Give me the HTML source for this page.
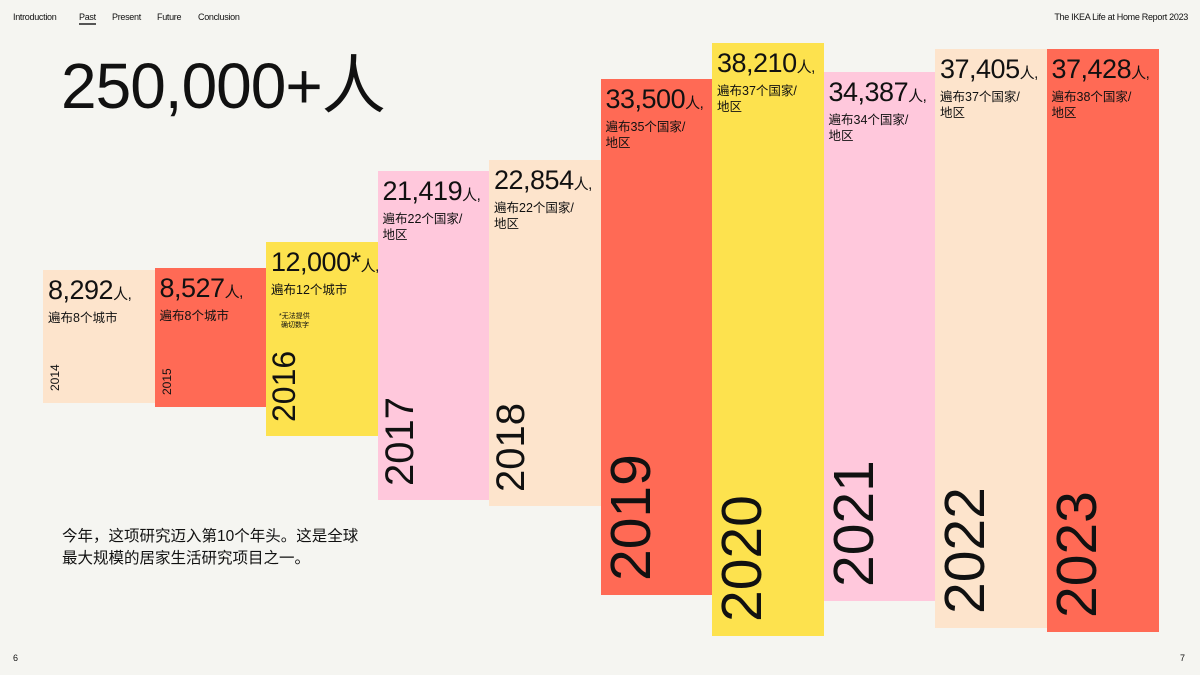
<!DOCTYPE html>
<html><head><meta charset="utf-8">
<style>
body{margin:0;width:1200px;height:675px;background:#f5f5f1;position:relative;overflow:hidden;font-family:"Liberation Sans","Noto Sans CJK SC",sans-serif;color:#111}
.nav{position:absolute;top:12px;font-size:9px;letter-spacing:-0.3px}
.bar{position:absolute}
.lbl{position:absolute;left:5px;top:5px;white-space:nowrap}
.num{font-size:27px;letter-spacing:-0.5px;line-height:30px}
.num small{font-size:15px}
.sub{font-size:12.5px;line-height:16px}
.yr{position:absolute;left:0;transform-origin:0 0;transform:rotate(-90deg);white-space:nowrap;line-height:1}
</style></head><body>
<div class="nav" style="left:13px">Introduction</div>
<div class="nav" style="left:79px;border-bottom:2px solid #555;padding-bottom:1px">Past</div>
<div class="nav" style="left:112px">Present</div>
<div class="nav" style="left:157px">Future</div>
<div class="nav" style="left:198px">Conclusion</div>
<div class="nav" style="right:12px">The IKEA Life at Home Report 2023</div>
<div style="position:absolute;left:61px;top:48px;font-size:64px;letter-spacing:-1px;line-height:76px">250,000+人</div>
<div style="position:absolute;left:62px;top:526px;font-size:15.5px;line-height:22px">今年，这项研究迈入第10个年头。这是全球<br>最大规模的居家生活研究项目之一。</div>
<div style="position:absolute;left:13px;top:653px;font-size:9px">6</div>
<div style="position:absolute;left:1180px;top:653px;font-size:9px">7</div>
<div id="chart"></div>
<script>
const years=["2014","2015","2016","2017","2018","2019","2020","2021","2022","2023"];
const values=[8292,8527,12000,21419,22854,33500,38210,34387,37405,37428];
const valueLabels=["8,292","8,527","12,000*","21,419","22,854","33,500","38,210","34,387","37,405","37,428"];
const subLabels=["遍布8个城市","遍布8个城市","遍布12个城市","遍布22个国家/<br>地区","遍布22个国家/<br>地区","遍布35个国家/<br>地区","遍布37个国家/<br>地区","遍布34个国家/<br>地区","遍布37个国家/<br>地区","遍布38个国家/<br>地区"];
const bottoms=[403,407,436,500,506,595,636,601,628,632];
const colors=["#fde4cc","#ff6a55","#fde24e","#ffc8dc","#fde4cc","#ff6a55","#fde24e","#ffc8dc","#fde4cc","#ff6a55"];
const yrSizes=[12,12,32,40,40,57,57,57,57,57];
const xs=i=>43+i*111.5;
const ys=v=>332.9-v*0.00758;
const chart=document.getElementById('chart');
years.forEach((y,i)=>{
  const b=document.createElement('div');
  b.className='bar';
  
  
  const top=ys(values[i]);
  b.style.cssText=`left:${xs(i)}px;top:${top}px;width:112px;height:${bottoms[i]-top}px;background:${colors[i]}`;
  b.innerHTML=`<div class="lbl"><div class="num">${valueLabels[i]}<small>人,</small></div><div class="sub">${subLabels[i]}</div>${i==2?'<div style="font-size:7px;line-height:9px;margin:14px 0 0 8px">*无法提供<br>&nbsp;确切数字</div>':''}</div>`;
  const t=document.createElement('div');
  t.className='yr';
  
  
  t.textContent=y;
  t.style.fontSize=yrSizes[i]+'px';
  t.style.left=(i<2?6:2)+'px';
  t.style.top=(bottoms[i]-top-(i<2?12:14))+'px';
  b.appendChild(t);
  chart.appendChild(b);
});
</script>
</body></html>
